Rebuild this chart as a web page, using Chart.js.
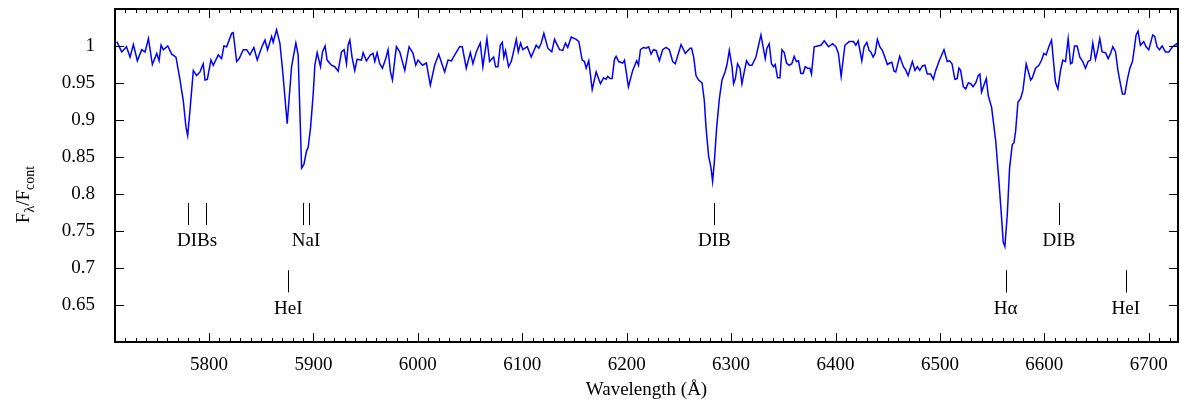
<!DOCTYPE html>
<html>
<head>
<meta charset="utf-8">
<script src="https://cdn.jsdelivr.net/npm/chart.js@4"></script>
<style>
  body { margin: 0; background: #fff; }
  #wrap { width: 1181px; height: 405px; }
</style>
</head>
<body>
<div id="wrap"><canvas id="spectrum" width="1181" height="405"></canvas></div>
<script>
// Spectrum (wavelength in Angstrom, normalised flux)
const WAVELENGTH = [
  5711.7, 5716.5, 5721.0, 5724.4, 5727.6, 5731.4, 5735.6, 5738.8, 5742.0, 5745.8,
  5750.0, 5752.2, 5754.1, 5756.3, 5760.5, 5764.3, 5768.4, 5772.3, 5775.4, 5778.0,
  5779.6, 5781.8, 5785.0, 5788.2, 5791.4, 5794.5, 5796.2, 5798.4, 5801.9, 5804.1,
  5808.9, 5812.1, 5814.3, 5816.9, 5821.7, 5823.2, 5826.5, 5829.0, 5832.8, 5836.1,
  5839.2, 5843.0, 5846.2, 5850.4, 5853.6, 5856.1, 5860.0, 5861.5, 5864.7, 5867.9,
  5870.5, 5872.7, 5874.9, 5879.1, 5883.2, 5885.4, 5888.7, 5890.9, 5893.4, 5895.0,
  5897.3, 5899.8, 5901.4, 5903.6, 5906.8, 5908.7, 5911.2, 5913.1, 5917.3, 5920.5,
  5923.7, 5926.9, 5929.4, 5931.7, 5933.2, 5934.9, 5937.0, 5939.6, 5941.8, 5946.0,
  5947.6, 5950.8, 5954.6, 5957.1, 5958.8, 5961.0, 5963.5, 5966.1, 5969.3, 5971.5,
  5973.8, 5975.7, 5977.9, 5979.5, 5982.7, 5987.5, 5991.6, 5995.4, 5998.0, 6000.2,
  6004.4, 6008.2, 6012.0, 6016.1, 6020.0, 6025.7, 6028.9, 6032.1, 6036.2, 6040.0,
  6042.6, 6046.4, 6050.3, 6052.8, 6056.0, 6059.8, 6062.3, 6066.2, 6068.7, 6072.6,
  6074.5, 6076.7, 6079.0, 6080.9, 6082.4, 6084.0, 6086.9, 6089.5, 6091.0, 6094.3,
  6096.2, 6098.4, 6100.6, 6104.8, 6108.6, 6113.4, 6115.9, 6118.2, 6120.7, 6124.5,
  6128.3, 6130.9, 6135.7, 6138.8, 6141.4, 6143.6, 6146.9, 6151.7, 6154.2, 6157.4,
  6159.6, 6161.2, 6163.7, 6167.0, 6170.8, 6174.9, 6177.8, 6180.3, 6181.9, 6184.2,
  6186.1, 6188.3, 6189.9, 6192.4, 6196.2, 6197.9, 6201.7, 6205.8, 6209.6, 6211.3,
  6213.2, 6216.0, 6218.6, 6221.1, 6223.4, 6225.6, 6228.2, 6231.3, 6234.5, 6237.7,
  6240.9, 6244.1, 6246.6, 6252.1, 6256.2, 6260.7, 6262.2, 6264.2, 6266.4, 6268.9,
  6272.2, 6274.4, 6276.0, 6278.5, 6280.8, 6282.3, 6284.0, 6286.2, 6288.8, 6291.3,
  6294.2, 6296.1, 6298.3, 6300.9, 6302.4, 6304.1, 6306.2, 6308.5, 6310.4, 6312.6,
  6314.8, 6317.4, 6320.0, 6323.8, 6326.0, 6328.6, 6332.7, 6334.3, 6336.5, 6338.7,
  6340.6, 6342.3, 6344.5, 6346.8, 6348.7, 6350.9, 6353.1, 6355.6, 6358.2, 6360.4,
  6362.6, 6364.6, 6366.8, 6369.0, 6371.0, 6373.2, 6375.5, 6377.0, 6379.6, 6382.8,
  6386.0, 6389.2, 6393.3, 6397.1, 6400.4, 6402.8, 6405.4, 6409.0, 6413.1, 6417.2,
  6419.5, 6421.7, 6425.2, 6427.4, 6430.0, 6432.2, 6433.8, 6436.0, 6437.9, 6440.1,
  6442.4, 6444.9, 6447.2, 6449.7, 6452.0, 6453.9, 6456.1, 6457.7, 6461.5, 6465.0,
  6467.1, 6469.5, 6473.6, 6476.2, 6478.4, 6480.7, 6483.2, 6485.7, 6487.9, 6491.2,
  6493.7, 6496.0, 6499.6, 6503.9, 6507.0, 6509.2, 6511.6, 6514.3, 6516.5, 6518.2,
  6519.8, 6522.4, 6524.7, 6527.2, 6529.5, 6531.7, 6534.3, 6536.7, 6538.3, 6539.9,
  6542.1, 6544.4, 6546.3, 6549.5, 6553.4, 6556.5, 6559.1, 6560.6, 6562.2, 6564.5,
  6566.7, 6569.3, 6570.9, 6572.5, 6574.7, 6577.3, 6579.5, 6582.6, 6586.9, 6588.5,
  6591.6, 6594.8, 6597.4, 6599.5, 6601.7, 6604.3, 6606.9, 6609.1, 6610.7, 6613.0,
  6615.5, 6617.7, 6620.3, 6622.8, 6625.1, 6626.6, 6628.9, 6631.4, 6634.0, 6636.8,
  6639.4, 6641.9, 6644.2, 6646.4, 6649.0, 6651.2, 6653.1, 6655.3, 6658.6, 6661.1,
  6663.4, 6665.6, 6668.2, 6670.5, 6672.8, 6674.8, 6677.1, 6679.4, 6681.9, 6684.4,
  6686.0, 6687.9, 6689.7, 6692.0, 6695.2, 6697.4, 6700.0, 6703.8, 6705.7, 6707.9,
  6710.3, 6712.8, 6716.0, 6719.2, 6722.8, 6726.6, 6729.0
];
const FLUX = [
  1.006, 0.992, 0.999, 0.985, 1.002, 0.980, 0.995, 0.992, 1.010, 0.975,
  0.990, 0.980, 1.001, 0.995, 1.000, 0.989, 0.985, 0.954, 0.926, 0.890,
  0.879, 0.913, 0.967, 0.960, 0.965, 0.976, 0.954, 0.955, 0.981, 0.974,
  0.988, 0.983, 1.000, 0.999, 1.017, 1.018, 0.979, 0.983, 0.995, 0.995,
  0.988, 0.998, 0.981, 0.998, 1.008, 0.995, 1.013, 1.005, 1.022, 1.004,
  0.967, 0.931, 0.895, 0.972, 1.004, 0.988, 0.835, 0.840, 0.858, 0.863,
  0.890, 0.935, 0.974, 0.991, 0.972, 0.992, 1.000, 0.981, 0.974, 0.972,
  0.966, 0.992, 0.995, 0.976, 1.001, 1.008, 0.985, 0.967, 0.982, 0.981,
  0.991, 0.980, 0.988, 0.990, 0.979, 0.991, 0.976, 0.970, 0.983, 0.995,
  0.965, 0.954, 0.981, 0.999, 0.992, 0.967, 0.999, 0.990, 0.974, 0.981,
  0.974, 0.977, 0.947, 0.974, 0.989, 0.965, 0.981, 0.980, 0.990, 0.999,
  0.999, 0.970, 0.991, 0.976, 0.992, 1.004, 0.972, 1.010, 0.979, 0.985,
  0.972, 0.972, 1.001, 1.005, 0.985, 0.994, 0.972, 0.979, 0.988, 1.009,
  0.992, 1.004, 0.995, 0.999, 0.985, 1.001, 0.997, 1.004, 1.017, 0.997,
  0.992, 1.009, 0.995, 0.994, 1.004, 0.998, 1.012, 1.009, 1.006, 0.981,
  0.979, 0.970, 0.980, 0.941, 0.965, 0.949, 0.957, 0.955, 0.959, 0.956,
  0.956, 0.982, 0.986, 0.979, 0.977, 0.981, 0.945, 0.967, 0.980, 0.974,
  0.995, 0.998, 0.997, 0.999, 0.989, 0.995, 0.994, 0.980, 0.995, 0.998,
  0.995, 0.979, 0.976, 1.002, 0.990, 0.997, 0.997, 0.985, 0.960, 0.954,
  0.950, 0.926, 0.890, 0.851, 0.835, 0.817, 0.844, 0.890, 0.929, 0.954,
  0.965, 0.975, 0.994, 0.972, 0.949, 0.956, 0.976, 0.970, 0.949, 0.965,
  0.980, 0.974, 0.974, 0.985, 0.999, 1.015, 0.983, 0.997, 1.003, 0.976,
  0.972, 0.975, 0.957, 0.957, 0.995, 0.991, 0.977, 0.974, 0.976, 0.986,
  0.979, 0.980, 0.963, 0.963, 0.972, 0.970, 0.970, 0.962, 0.999, 1.000,
  1.001, 1.007, 0.999, 1.003, 0.999, 0.990, 0.959, 1.001, 1.006, 1.006,
  1.001, 1.007, 0.980, 0.999, 1.005, 0.994, 0.992, 0.985, 0.990, 1.009,
  0.999, 0.994, 0.985, 0.975, 0.977, 0.978, 0.966, 0.965, 0.986, 0.972,
  0.968, 0.960, 0.979, 0.967, 0.972, 0.967, 0.973, 0.974, 0.962, 0.962,
  0.955, 0.967, 0.981, 0.995, 0.979, 0.980, 0.976, 0.955, 0.956, 0.970,
  0.967, 0.945, 0.942, 0.950, 0.949, 0.945, 0.950, 0.960, 0.962, 0.938,
  0.947, 0.956, 0.933, 0.917, 0.872, 0.817, 0.767, 0.735, 0.729, 0.772,
  0.835, 0.867, 0.869, 0.885, 0.924, 0.929, 0.940, 0.976, 0.954, 0.957,
  0.970, 0.974, 0.981, 0.990, 0.988, 0.999, 1.008, 0.974, 0.951, 0.942,
  0.967, 0.981, 0.979, 1.010, 0.976, 0.977, 1.000, 1.000, 0.985, 0.979,
  0.970, 0.979, 0.981, 1.004, 0.982, 0.995, 1.010, 0.992, 0.991, 0.983,
  0.990, 0.999, 0.992, 0.967, 0.949, 0.935, 0.935, 0.954, 0.970, 0.979,
  0.995, 1.015, 1.020, 1.001, 1.006, 0.999, 0.995, 1.015, 1.013, 0.999,
  0.995, 1.000, 0.992, 0.992, 0.999, 1.003, 0.997
];

const X_TICKS = [5800, 5900, 6000, 6100, 6200, 6300, 6400, 6500, 6600, 6700];
const Y_TICKS = [0.65, 0.7, 0.75, 0.8, 0.85, 0.9, 0.95, 1];

// Line identifications
const LINE_NAMES = ['DIBs', 'NaI', 'HeI', 'DIB', 'H\u03b1', 'DIB', 'HeI'];
const LINE_CENTRES = [[5780, 5797], [5890, 5896], [5876], [6284], [6563], [6614], [6678]];
const LINE_ROW = ['upper', 'upper', 'lower', 'upper', 'lower', 'upper', 'lower'];

const FONT = "'Liberation Serif', 'DejaVu Serif', serif";

// frame, inward ticks, line ids and the y title
const decorations = {
    id: 'decorations',
    afterDraw(chart) {
        const ctx = chart.ctx;
        const a = chart.chartArea;
        const xs = chart.scales.x, ys = chart.scales.y;
        ctx.save();
        ctx.strokeStyle = '#000';
        ctx.lineWidth = 1;
        ctx.beginPath();
        // minor x ticks every 10 A, major every 100 A
        for (let v = Math.ceil(xs.min / 10) * 10; v <= xs.max; v += 10) {
            const px = Math.round(xs.getPixelForValue(v)) + 0.5;
            const len = (v % 100 === 0) ? 9 : 4;
            ctx.moveTo(px, a.bottom); ctx.lineTo(px, a.bottom - len);
            ctx.moveTo(px, a.top); ctx.lineTo(px, a.top + len);
        }
        Y_TICKS.forEach(v => {
            const py = Math.round(ys.getPixelForValue(v)) + 0.5;
            ctx.moveTo(a.left, py); ctx.lineTo(a.left + 9, py);
            ctx.moveTo(a.right, py); ctx.lineTo(a.right - 9, py);
        });
        ctx.stroke();

        ctx.lineWidth = 2;
        ctx.strokeRect(a.left, a.top, a.right - a.left, a.bottom - a.top);

        // line identifications
        const rows = {
            upper: { top: 0.788, bottom: 0.758, text: 0.736 },
            lower: { top: 0.697, bottom: 0.667, text: 0.645 }
        };
        ctx.lineWidth = 1;
        ctx.fillStyle = '#000';
        ctx.font = '19px ' + FONT;
        ctx.textAlign = 'center';
        ctx.textBaseline = 'middle';
        LINE_NAMES.forEach((name, i) => {
            const r = rows[LINE_ROW[i]];
            const waves = LINE_CENTRES[i];
            ctx.beginPath();
            waves.forEach(w => {
                const px = Math.round(xs.getPixelForValue(w)) + 0.5;
                ctx.moveTo(px, ys.getPixelForValue(r.top));
                ctx.lineTo(px, ys.getPixelForValue(r.bottom));
            });
            ctx.stroke();
            const mid = waves.reduce((s, w) => s + w, 0) / waves.length;
            ctx.fillText(name, xs.getPixelForValue(mid), ys.getPixelForValue(r.text));
        });

        // y title: F_lambda / F_cont
        const parts = [['F', 19, 0], ['\u03bb', 14, 5], ['/F', 19, 0], ['cont', 14, 5]];
        let total = 0;
        parts.forEach(p => { ctx.font = p[1] + 'px ' + FONT; total += ctx.measureText(p[0]).width; });
        ctx.translate(29, (a.top + a.bottom) / 2 + 19);
        ctx.rotate(-Math.PI / 2);
        ctx.textAlign = 'left';
        ctx.textBaseline = 'alphabetic';
        let x = -total / 2;
        parts.forEach(p => {
            ctx.font = p[1] + 'px ' + FONT;
            ctx.fillText(p[0], x, p[2]);
            x += ctx.measureText(p[0]).width;
        });
        ctx.restore();
    }
};

const points = WAVELENGTH.map((w, i) => ({ x: w, y: FLUX[i] }));

new Chart(document.getElementById('spectrum').getContext('2d'), {
    type: 'line',
    data: {
        datasets: [{
            data: points,
            borderColor: '#0000ff',
            borderWidth: 1.5,
            pointRadius: 0,
            tension: 0,
            fill: false
        }]
    },
    options: {
        responsive: false,
        animation: false,
        devicePixelRatio: 1,
        layout: { padding: { left: 0, right: 3, top: 9, bottom: 0 } },
        plugins: { legend: { display: false }, tooltip: { enabled: false } },
        scales: {
            x: {
                type: 'linear',
                min: 5710,
                max: 6728,
                grid: { display: false },
                border: { display: false },
                afterBuildTicks: scale => { scale.ticks = X_TICKS.map(v => ({ value: v })); },
                afterFit: scale => {
                    scale.height = 63;
                    scale.paddingLeft = 0;
                    scale.paddingRight = 0;
                },
                ticks: {
                    padding: 4,
                    color: '#000',
                    font: { family: FONT, size: 19 },
                    maxRotation: 0,
                    callback: v => String(v)
                },
                title: {
                    display: true,
                    text: 'Wavelength (\u00c5)',
                    color: '#000',
                    font: { family: FONT, size: 19 },
                    padding: { top: 0, bottom: 4 }
                }
            },
            y: {
                type: 'linear',
                min: 0.6,
                max: 1.05,
                grid: { display: false },
                border: { display: false },
                afterBuildTicks: scale => { scale.ticks = Y_TICKS.map(v => ({ value: v })); },
                afterFit: scale => {
                    scale.width = 115;
                    scale.paddingTop = 0;
                    scale.paddingBottom = 0;
                },
                ticks: {
                    padding: 12,
                    color: '#000',
                    font: { family: FONT, size: 19 },
                    callback: v => String(+v.toFixed(2))
                }
            }
        }
    },
    plugins: [decorations]
});
</script>
</body>
</html>
